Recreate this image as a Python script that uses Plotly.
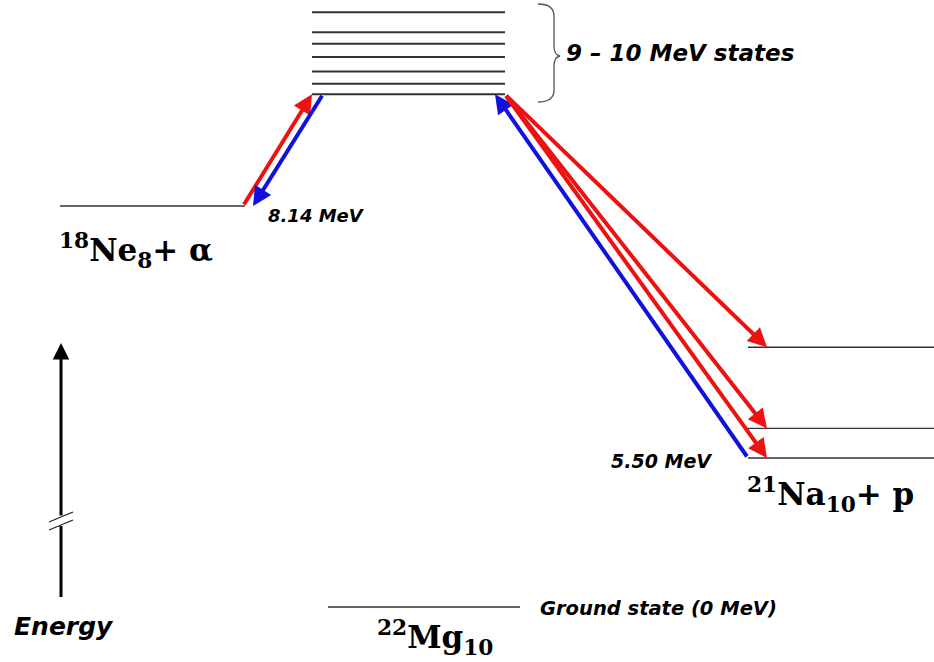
import plotly.graph_objects as go

W, H = 934, 662

# Energy levels (MeV)
resonance_states = [10.17, 9.96, 9.84, 9.70, 9.55, 9.42, 9.31]
ne_alpha_threshold = 8.14
na_p_levels = [5.50, 5.81, 6.66]
ground_state = 0.0

# Horizontal extents of each column (plot x units)
COL_TOP = (312, 505)
COL_NE = (60, 245)
COL_NA = (748, 934)
COL_MG = (328, 520)

LEVEL_COLOR = "#333333"
RED = "#ee1111"
BLUE = "#1111dd"

fig = go.Figure()


def level_trace(xr, energies, yaxis, width=1.4, color=LEVEL_COLOR):
    xs, ys = [], []
    for e in energies:
        xs += [xr[0], xr[1], None]
        ys += [e, e, None]
    return go.Scatter(x=xs, y=ys, mode="lines", yaxis=yaxis, hoverinfo="skip",
                      line=dict(color=color, width=width), showlegend=False)


fig.add_trace(level_trace(COL_TOP, resonance_states, "y", width=2.0, color="#333333"))
fig.add_trace(level_trace(COL_NE, [ne_alpha_threshold], "y"))
fig.add_trace(level_trace(COL_NA, na_p_levels, "y"))
fig.add_trace(level_trace(COL_MG, [ground_state], "y2"))

lowest_res = min(resonance_states)


def arrow(x_from, e_from, x_to, e_to, color):
    fig.add_annotation(x=x_to, y=e_to, ax=x_from, ay=e_from,
                       xref="x", yref="y", axref="x", ayref="y",
                       text="", showarrow=True, arrowhead=2, arrowsize=0.95,
                       arrowwidth=4, arrowcolor=color, standoff=0, startstandoff=0)


# alpha capture / emission
arrow(COL_NE[1] - 2, ne_alpha_threshold, COL_TOP[0], lowest_res, RED)
arrow(COL_TOP[0] + 11, lowest_res, COL_NE[1] + 8, ne_alpha_threshold, BLUE)
# proton channel
arrow(COL_NA[0], na_p_levels[0], COL_TOP[1] - 10, lowest_res, BLUE)
for e in sorted(na_p_levels, reverse=True):
    arrow(COL_TOP[1], lowest_res, COL_NA[0] + 19, e, RED)


def px(x):
    return x / W


def py(y):
    return 1 - y / H


SANS = "DejaVu Sans, Arial, sans-serif"
SERIF = "DejaVu Serif, Times New Roman, serif"


def label(x, y, text, size, family=SANS, xanchor="left"):
    fig.add_annotation(x=px(x), y=py(y), xref="paper", yref="paper", text=text,
                       showarrow=False, xanchor=xanchor, yanchor="middle",
                       font=dict(family=family, size=size, color="#000000"))


label(564, 53, "<b><i>9 – 10 MeV states</i></b>", 23)
label(266, 215, "<b><i>8.14 MeV</i></b>", 18)
label(609, 461, "<b><i>5.50 MeV</i></b>", 19)
label(538, 608, "<b><i>Ground state (0 MeV)</i></b>", 19.5)
label(12, 626, "<b><i>Energy</i></b>", 25)
label(57, 250, "<b><sup>18</sup>Ne<sub>8</sub>+ α</b>", 31, SERIF)
label(745, 494, "<b><sup>21</sup>Na<sub>10</sub>+ p</b>", 31, SERIF)
label(375, 637, "<b><sup>22</sup>Mg<sub>10</sub></b>", 31, SERIF)


def paper_path(spec):
    out = []
    for tok in spec.split():
        if "," in tok:
            a, b = tok.split(",")
            out.append(f"{px(float(a))},{py(float(b))}")
        else:
            out.append(tok)
    return " ".join(out)


# Curly brace grouping the resonance states
brace = ("M 538,4 Q 554,4 554,16 L 554,46 Q 554,55 560,56 "
         "Q 554,57 554,66 L 554,90 Q 554,102 538,102")
fig.add_shape(type="path", xref="paper", yref="paper", path=paper_path(brace),
              line=dict(color="#555555", width=1.3))

# Energy axis: broken shaft with an arrowhead on top
fig.add_shape(type="line", xref="paper", yref="paper", x0=px(61), y0=py(597),
              x1=px(61), y1=py(526), line=dict(color="#000000", width=3))
fig.add_annotation(x=px(61), y=py(343), ax=0, ay=517 - 343, xref="paper", yref="paper",
                   axref="pixel", ayref="pixel", text="", showarrow=True, arrowhead=2,
                   arrowsize=1.1, arrowwidth=3, arrowcolor="#000000", standoff=0)
fig.add_shape(type="path", xref="paper", yref="paper",
              path=paper_path("M 49,522 L 73,512 M 49,530 L 73,520"),
              line=dict(color="#222222", width=1.3))

# Upper energy axis covers pixels 0..540, lower (ground state) axis the rest
split = 540 / H
fig.update_layout(
    width=W, height=H, margin=dict(l=0, r=0, t=0, b=0),
    paper_bgcolor="white", plot_bgcolor="white", showlegend=False,
    xaxis=dict(range=[0, W], visible=False, fixedrange=True),
    yaxis=dict(domain=[1 - split, 1], range=[4.641, 10.298], visible=False),
    yaxis2=dict(domain=[0, 1 - split], range=[-0.55, 0.67], visible=False),
)

fig.write_html("out.html")
